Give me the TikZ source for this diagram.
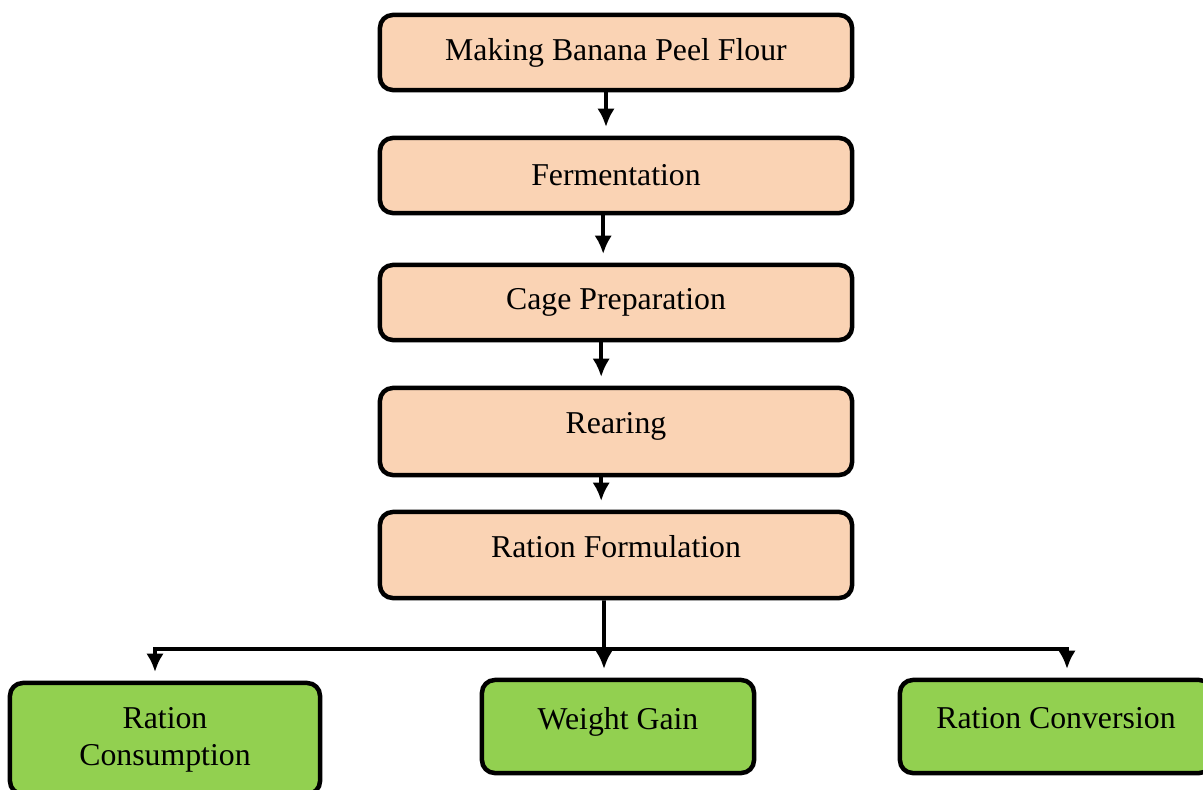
\documentclass[tikz,border=0pt]{standalone}
\usepackage{fontspec}
\setmainfont{Liberation Serif}
\usetikzlibrary{arrows.meta,positioning,calc}

\begin{document}
\begin{tikzpicture}[
  x=0.025cm,y=-0.025cm,
  stage/.style={draw=black,line width=3.2pt,rounded corners=0.32cm,
    fill={rgb,255:red,250;green,211;blue,180},minimum width=11.8cm,minimum height=1.875cm,
    font=\fontsize{22.6}{26}\selectfont},
  result/.style={draw=black,line width=3.2pt,rounded corners=0.32cm,
    fill={rgb,255:red,146;green,208;blue,80},font=\fontsize{22.6}{26}\selectfont,align=center},
  raised/.style={text depth=0.42cm},
  edge/.style={-{Latex[length=0.46cm,width=0.44cm]},line width=2.8pt,shorten >=0.22cm}
]
\useasboundingbox (0,0) rectangle (1203,789);
\node[stage] (flour) at (616,52.5) {Making Banana Peel Flour};
\node[stage] (ferment) at (616,175.5) {Fermentation};
\node[stage] (cage) at (616,302.5) {Cage Preparation};
\node[stage,minimum height=2.175cm,raised] (rear) at (616,431.5) {Rearing};
\node[stage,minimum height=2.15cm,raised] (formula) at (616,555) {Ration Formulation};
\node[result,minimum width=7.75cm,minimum height=2.775cm,text depth=0.1cm] (consume) at (165,738.5) {Ration\\Consumption};
\node[result,minimum width=6.8cm,minimum height=2.325cm,raised] (gain) at (618,726.5) {Weight Gain};
\node[result,minimum width=7.8cm,minimum height=2.325cm,raised] (convert) at (1056,726.5) {Ration Conversion};
\coordinate (split) at (604,649);
\draw[edge] ([xshift=-0.25cm]flour.south) -- ([xshift=-0.25cm]ferment.north);
\draw[edge] ([xshift=-0.32cm]ferment.south) -- ([xshift=-0.32cm]cage.north);
\draw[edge] ([xshift=-0.37cm]cage.south) -- ([xshift=-0.37cm]rear.north);
\draw[edge] ([xshift=-0.37cm]rear.south) -- ([xshift=-0.37cm]formula.north);
\draw[edge] ([xshift=-0.3cm]formula.south) -- (split) -- ([xshift=-0.35cm]gain.north);
\draw[edge] (split) -| ([xshift=-0.25cm]consume.north);
\draw[edge] (split) -| ([xshift=0.275cm]convert.north);
\end{tikzpicture}
\end{document}
